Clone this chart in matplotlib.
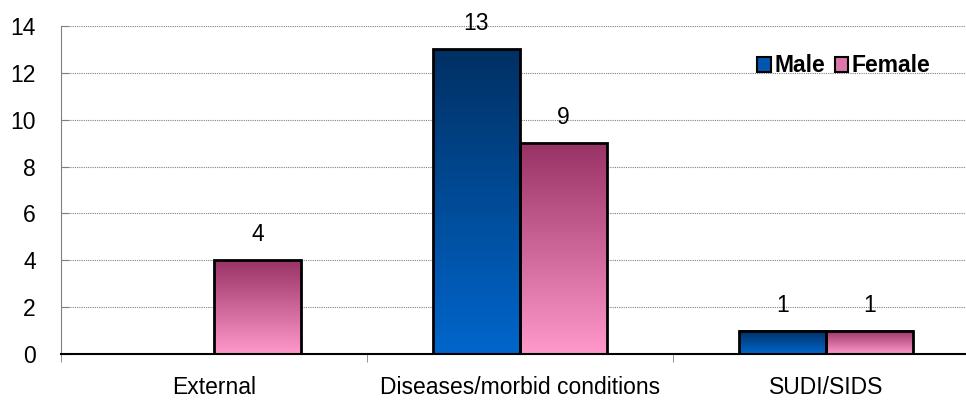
import matplotlib
matplotlib.use('Agg')
import matplotlib.pyplot as plt
import numpy as np
from matplotlib.colors import LinearSegmentedColormap
from matplotlib.patches import Patch

categories = ['External', 'Diseases/morbid conditions', 'SUDI/SIDS']
male = [0, 13, 1]
female = [4, 9, 1]

plt.rcParams['font.family'] = ['Liberation Sans', 'DejaVu Sans']

male_cmap = LinearSegmentedColormap.from_list('male', ['#0066cc', '#003063'])
female_cmap = LinearSegmentedColormap.from_list('female', ['#ff99cc', '#993366'])

fig = plt.figure(figsize=(9.66, 4), dpi=100)
ax = fig.add_axes([61 / 966, 46 / 400, 918 / 966, 328 / 400])

width = 0.285
x = np.arange(len(categories))
grad = np.linspace(0, 1, 256).reshape(-1, 1)
fs = 16.5


def gradient_bars(xs, vals, cmap):
    for xi, v in zip(xs, vals):
        if v <= 0:
            continue
        ax.imshow(grad, cmap=cmap, origin='lower', aspect='auto',
                  extent=[xi - width / 2, xi + width / 2, 0, v], zorder=2)
        ax.text(xi, v + 0.6, str(v), ha='center', va='bottom', fontsize=fs)
    ax.bar(xs, vals, width, facecolor='none', edgecolor='black', linewidth=2, zorder=3)


gradient_bars(x - width / 2, male, male_cmap)
gradient_bars(x + width / 2, female, female_cmap)

ax.set_xlim(-0.5, len(categories) - 0.5)
ax.set_ylim(0, 14)
ax.set_yticks(range(0, 15, 2))
ax.set_xticks(x)
ax.set_xticklabels(categories, fontsize=fs)
ax.set_xticks(np.arange(-0.5, len(categories), 1), minor=True)
ax.tick_params(axis='x', which='major', length=0, pad=16)
ax.tick_params(axis='x', which='minor', length=6, color='#808080', direction='out')
ax.tick_params(axis='y', labelsize=fs, length=6, color='#808080', direction='in', pad=18)
ax.grid(axis='y', linestyle=(0, (1, 1)), color='#808080', linewidth=0.8, zorder=0)
ax.set_axisbelow(True)
for s in ['top', 'right']:
    ax.spines[s].set_visible(False)
ax.spines['left'].set_color('#808080')
ax.spines['bottom'].set_color('black')
ax.spines['bottom'].set_linewidth(1.5)

handles = [Patch(facecolor='#0058b0', edgecolor='black', linewidth=1.5, label='Male'),
           Patch(facecolor='#dd77a8', edgecolor='black', linewidth=1.5, label='Female')]
fig.legend(handles=handles, loc='center', bbox_to_anchor=(844 / 966, 1 - 66 / 400),
           ncol=2, frameon=False, handlelength=0.6, handleheight=0.6,
           handletextpad=0.15, columnspacing=0.4, prop={'weight': 'bold', 'size': fs})

fig.savefig('out.png', dpi=100)
